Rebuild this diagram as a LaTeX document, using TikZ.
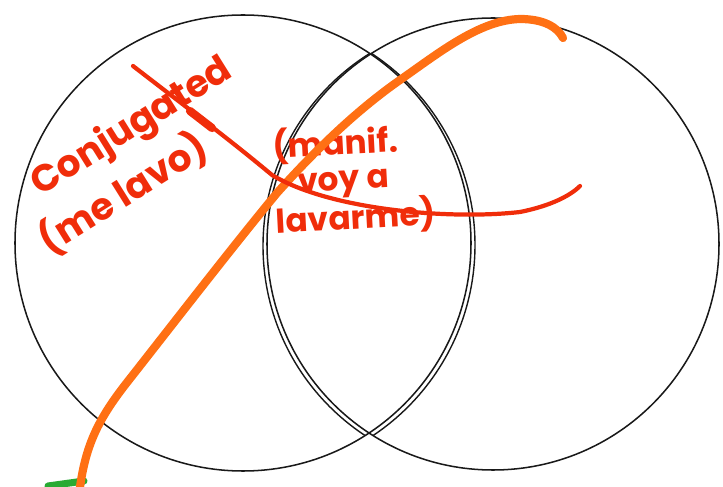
\documentclass[tikz,border=0pt]{standalone}
\usepackage{fontspec}
\setmainfont{Poppins}
\definecolor{PenRed}{RGB}{240,45,10}
\definecolor{MarkOrange}{RGB}{255,112,20}
\definecolor{MarkGreen}{RGB}{40,170,50}
\usetikzlibrary{positioning,calc}

\begin{document}
\begin{tikzpicture}[x=0.03cm, y=-0.03cm,
      every node/.style={text=PenRed, inner sep=0pt, align=left},
      ring/.style={draw=black!90, circle, line width=1.3pt, minimum size=#1},
      pen/.style={draw=black!90, line width=1.2pt},
      marker/.style={draw=MarkOrange, line width=7pt, line cap=round},
      stroke/.style={draw=PenRed, line width=3.6pt, line cap=round}
  ]
    \useasboundingbox (0,0) rectangle (723,487);
    % the two sets
    \node[ring=13.68cm] (lset) at (243,243) {};
    \node[ring=13.56cm] (rset) at (493,244) {};
    % lens redrawn
    \begin{scope}
      \clip (493,244) circle[radius=226];
      \draw[pen] (246,245) circle[radius=229];
    \end{scope}
    \begin{scope}
      \clip (243,243) circle[radius=228];
      \draw[pen] (490,246) circle[radius=227];
    \end{scope}
    % labels
    \node[rotate=32, font=\bfseries\fontsize{32}{46}\selectfont] (conj) at (136,156)
         {\hspace{20pt}Conjugated\\(me lavo)};
    \node[rotate=3, font=\bfseries\fontsize{28}{30}\selectfont] (manif) at (354,180)
         {(manif.\\\hspace{20pt}voy a\\lavarme)};
    % strokes
    \coordinate (gA) at (48,486);
    \coordinate (gB) at (84,481);
    \coordinate (oA) at (80,487);
    \coordinate (oB) at (563,38);
    \coordinate (rA) at (133,66);
    \coordinate (rB) at (580,186);
    \draw[MarkGreen, line width=6pt, line cap=round] (gA) -- (gB);
    \draw[marker] (oA) .. controls (86,445) and (98,420) .. (125,385)
                  .. controls (180,315) and (230,250) .. (277,193)
                  .. controls (320,145) and (360,108) .. (400,80)
                  .. controls (440,52) and (480,20) .. (520,19)
                  .. controls (545,19) and (558,28) .. (oB);
    \draw[stroke] (rA) .. controls (190,110) and (230,140) .. (272,175)
                  .. controls (330,210) and (450,220) .. (520,212)
                  .. controls (550,206) and (570,196) .. (rB);
    \draw[PenRed, line width=7pt, line cap=round] (190,111) -- (212,128);
\end{tikzpicture}
\end{document}
